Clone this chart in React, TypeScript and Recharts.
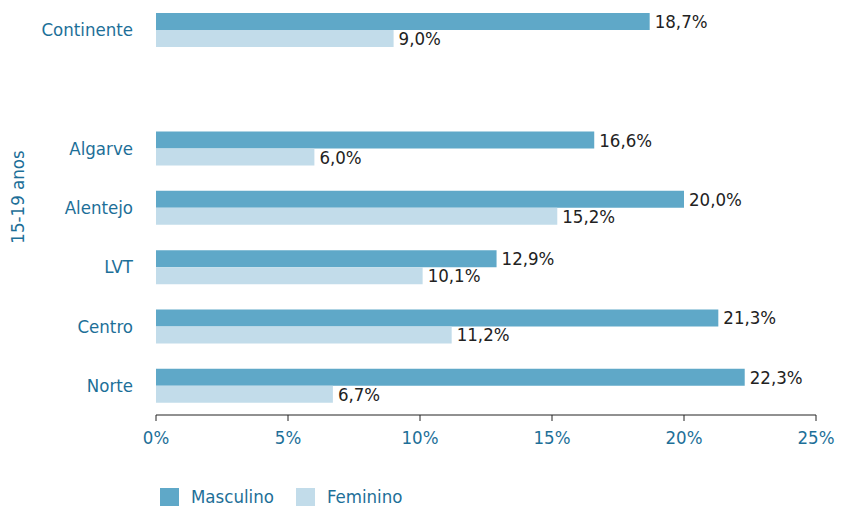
import React from "react";
import { BarChart, Bar, XAxis, YAxis, Legend, LabelList } from "recharts";

const regions = ["Continente", "", "Algarve", "Alentejo", "LVT", "Centro", "Norte"];
const masculino = [18.7, null, 16.6, 20.0, 12.9, 21.3, 22.3];
const feminino = [9.0, null, 6.0, 15.2, 10.1, 11.2, 6.7];
const xTicks = [0, 5, 10, 15, 20, 25];

const data = regions.map((name, i) => ({
  name,
  masculino: masculino[i],
  feminino: feminino[i],
}));

const FONT = "'DejaVu Sans Condensed', sans-serif";
const FS = 18.5;
const BLUE_TEXT = "#1d6f98";
const DARK = "#5fa8c8";
const LIGHT = "#c2dcea";

const fmt = (v: any) => (v == null ? "" : `${Number(v).toFixed(1).replace(".", ",")}%`);

const LegendContent = () => (
  <div style={{ display: "flex", paddingTop: 32, paddingLeft: 160, fontFamily: FONT, fontSize: FS, lineHeight: "20px", color: BLUE_TEXT }}>
    {[
      { label: "Masculino", color: DARK },
      { label: "Feminino", color: LIGHT },
    ].map((d) => (
      <div key={d.label} style={{ display: "flex", alignItems: "center", marginRight: 22 }}>
        <span style={{ width: 19, height: 19, background: d.color, display: "inline-block", marginRight: 12 }} />
        <span>{d.label}</span>
      </div>
    ))}
  </div>
);

const SideLabel = () => (
  <text x={24} y={197} transform="rotate(-90 24 197)" textAnchor="middle" fill={BLUE_TEXT} fontFamily={FONT} fontSize={FS}>
    15-19 anos
  </text>
);

export default function App() {
  return (
    <div style={{ position: "absolute", left: 0, top: 0 }}>
      <BarChart
        width={844}
        height={506}
        data={data}
        layout="vertical"
        margin={{ top: 0, right: 28, left: 0, bottom: 0 }}
        barGap={0}
        barCategoryGap={12}
      >
        <XAxis
          type="number"
          domain={[0, 25]}
          ticks={xTicks}
          tickFormatter={(v) => `${v}%`}
          height={40}
          axisLine={{ stroke: "#222" }}
          tickLine={{ stroke: "#222" }}
          tickSize={6}
          tickMargin={10}
          tick={{ fill: BLUE_TEXT, fontFamily: FONT, fontSize: FS }}
        />
        <YAxis
          type="category"
          dataKey="name"
          width={156}
          axisLine={false}
          tickLine={false}
          tickMargin={17}
          tick={{ fill: BLUE_TEXT, fontFamily: FONT, fontSize: FS }}
          label={<SideLabel />}
        />
        <Legend verticalAlign="bottom" height={51} content={<LegendContent />} />
        <Bar dataKey="masculino" fill={DARK} barSize={17} isAnimationActive={false}>
          <LabelList dataKey="masculino" position="right" offset={5} formatter={fmt} fill="#222" fontFamily={FONT} fontSize={FS} />
        </Bar>
        <Bar dataKey="feminino" fill={LIGHT} barSize={17} isAnimationActive={false}>
          <LabelList dataKey="feminino" position="right" offset={5} formatter={fmt} fill="#222" fontFamily={FONT} fontSize={FS} />
        </Bar>
      </BarChart>
    </div>
  );
}
